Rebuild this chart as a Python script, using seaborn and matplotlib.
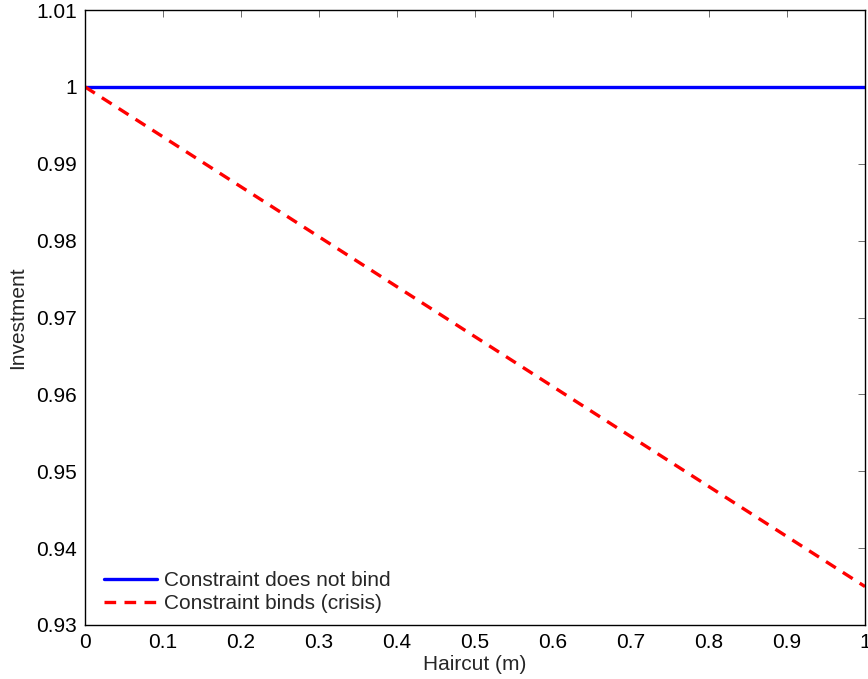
import numpy as np
import pandas as pd
import matplotlib
matplotlib.use("Agg")
import matplotlib.pyplot as plt
import seaborn as sns

haircut = [0.0, 1.0]
no_bind = [1.0, 1.0]
binds = [1.0, 0.935]
series_names = ["Constraint does not bind", "Constraint binds (crisis)"]
xticks = [0, 0.1, 0.2, 0.3, 0.4, 0.5, 0.6, 0.7, 0.8, 0.9, 1]
xticklabels = ["0", "0.1", "0.2", "0.3", "0.4", "0.5", "0.6", "0.7", "0.8", "0.9", "1"]
yticks = [0.93, 0.94, 0.95, 0.96, 0.97, 0.98, 0.99, 1.0, 1.01]
yticklabels = ["0.93", "0.94", "0.95", "0.96", "0.97", "0.98", "0.99", "1", "1.01"]

sns.set_theme(style="white")
plt.rcParams['font.family'] = ['Liberation Sans', 'DejaVu Sans']
FS = 15

df = pd.DataFrame({
    "x": haircut + haircut,
    "y": no_bind + binds,
    "s": [series_names[0]] * len(haircut) + [series_names[1]] * len(haircut),
})

fig = plt.figure(figsize=(8.68, 6.79), dpi=100)
ax = fig.add_axes([85/868, 1 - 625/679, 780/868, 615/679])
sns.lineplot(data=df, x="x", y="y", hue="s", style="s",
             palette=["#0000ff", "#ff0000"],
             dashes=[(), (3.5, 2.5)], linewidth=2.4, ax=ax)

ax.set_xlim(0, 1)
ax.set_ylim(0.93, 1.01)
ax.set_xticks(xticks)
ax.set_xticklabels(xticklabels)
ax.set_yticks(yticks)
ax.set_yticklabels(yticklabels)
ax.tick_params(direction="in", top=True, right=True, length=5, width=0.6,
               color="#555555", labelsize=FS, labelcolor="black", pad=6)
for sp in ax.spines.values():
    sp.set_color("black")
    sp.set_linewidth(1.0)
ax.set_xlabel("Haircut (m)", fontsize=FS, labelpad=2)
ax.set_ylabel("Investment", fontsize=FS, labelpad=6)
leg = ax.legend(loc="lower left", frameon=False, fontsize=FS,
                handlelength=2.55, handletextpad=0.3, borderaxespad=0.0,
                labelspacing=0.2, bbox_to_anchor=(0.014, 0.006))
fig.savefig("out.png", dpi=100)
